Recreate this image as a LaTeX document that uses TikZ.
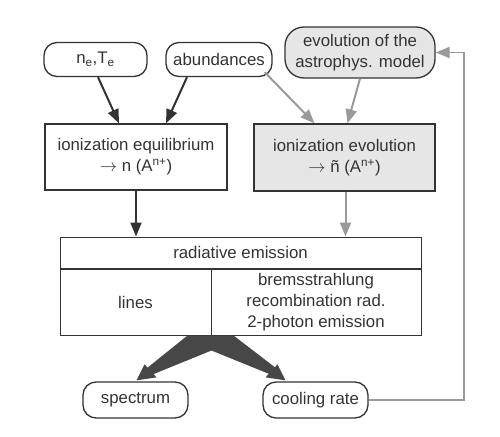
\documentclass[tikz,border=0pt]{standalone}
\usepackage{fontspec}
\setmainfont{Liberation Sans}
\usetikzlibrary{calc,arrows.meta}
\definecolor{darkc}{HTML}{333333}
\definecolor{grayc}{HTML}{9A9A9A}
\definecolor{boxfill}{HTML}{E6E6E6}
\begin{document}
\begin{tikzpicture}[x=1pt,y=-1pt,
  every node/.style={font=\fontsize{16.8}{21}\selectfont, text=darkc, inner sep=0pt, align=center},
  pill/.style={draw=darkc, line width=1.3pt, rounded corners=13pt, minimum height=34pt},
  sqbox/.style={draw=darkc, line width=1.3pt, minimum width=182pt, minimum height=66pt},
  thinbox/.style={draw=darkc, line width=1pt},
  darkarrow/.style={draw=darkc, line width=2pt, -{Triangle[length=14pt,width=11pt]}},
  grayarrow/.style={draw=grayc, line width=2pt, -{Triangle[length=14pt,width=11pt]}},
  wedge/.style={fill=darkc!90, draw=none}
]
\useasboundingbox (0,0) rectangle (500,436);

% top row
\node[pill, minimum width=103pt] (ne) at (95.5,59.5) {n\textsubscript{e},T\textsubscript{e}};
\node[pill, minimum width=106pt] (ab) at (219,59.5) {abundances};
\node[pill, fill=boxfill, rounded corners=19pt, minimum width=150pt, minimum height=51pt] (evo) at (360,52.5) {evolution of the\\astrophys. model};

% ionization boxes
\node[sqbox, fill=white] (ieq) at (136,157) {ionization equilibrium\\$\rightarrow$\ n (A\textsuperscript{n+})};
\node[sqbox, fill=boxfill, minimum width=181pt, minimum height=67pt] (iev) at (344.5,157.5) {ionization evolution\\$\rightarrow$\ ñ (A\textsuperscript{n+})};

% radiative emission table
\node[thinbox, minimum width=361pt, minimum height=31pt] (rad) at (240.5,252.5) {radiative emission};
\node[thinbox, minimum width=151pt, minimum height=66pt, anchor=north west] (lin) at (rad.south west) {lines};
\node[thinbox, minimum width=210pt, minimum height=66pt, anchor=north east] (brem) at (rad.south east) {bremsstrahlung\\recombination rad.\\2-photon emission};

% bottom row
\node[pill, minimum width=105pt, minimum height=36pt] (spec) at (135.5,400) {spectrum};
\node[pill, minimum width=105pt, minimum height=36pt] (cool) at (315.5,400) {cooling rate};

% dark arrows
\draw[darkarrow] ($(ne.south)+(2.5,0)$) -- ($(ieq.north)+(-17,0)$);
\draw[darkarrow] ($(ab.south)+(-32,0)$) -- ($(ieq.north)+(30,0)$);
\draw[darkarrow] (ieq.south) -- (ieq.south |- rad.north);

% gray arrows
\coordinate (ievs) at ($(iev.south)+(1,0)$);
\draw[grayarrow] ($(ab.south east)+(-8,-5)$) -- ($(iev.north)+(-30,0)$);
\draw[grayarrow] (evo.south) -- ($(iev.north)+(3,0)$);
\draw[grayarrow] (ievs) -- (ievs |- rad.north);

% feedback loop
\coordinate (fb) at (464,0);
\draw[grayarrow, line width=1.8pt] (cool.east) -- (cool.east -| fb) -- (evo.east -| fb) -- (evo.east);

% wedge (two tapered arrows)
\coordinate (wc) at (lin.south east);
\fill[wedge] ($(wc)+(-24,0)$) -- ($(wc)+(22,0)$) -- ($(wc)+(65,33)$) -- ($(wc)+(59,39)$) -- ($(wc)+(0,15)$)
  -- ($(wc)+(-59,39)$) -- ($(wc)+(-65,33)$) -- cycle;
\fill[wedge] ($(spec.north)+(9,-17)$) -- ($(spec.north)+(21,-4)$) -- ($(spec.north)+(1,-1)$) -- cycle;
\fill[wedge] ($(cool.north)+(-38,-17)$) -- ($(cool.north)+(-50,-4)$) -- ($(cool.north)+(-30,-1)$) -- cycle;
\end{tikzpicture}
\end{document}
